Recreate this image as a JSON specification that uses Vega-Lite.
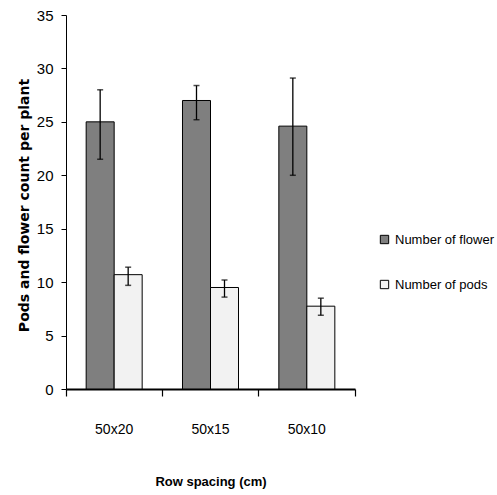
{
  "$schema": "https://vega.github.io/schema/vega-lite/v6.json",
  "autosize": {"type": "none"},
  "padding": {"left": 66, "top": 15, "right": 142, "bottom": 106},
  "width": 289,
  "height": 374,
  "background": "white",
  "config": {
    "view": {"stroke": null},
    "font": "Liberation Sans, sans-serif"
  },
  "data": {
    "values": [
      {"spacing": "50x20", "series": "Number of flower", "value": 25.0, "lower": 21.5, "upper": 28.0},
      {"spacing": "50x20", "series": "Number of pods", "value": 10.7, "lower": 9.7, "upper": 11.4},
      {"spacing": "50x15", "series": "Number of flower", "value": 27.0, "lower": 25.2, "upper": 28.4},
      {"spacing": "50x15", "series": "Number of pods", "value": 9.5, "lower": 8.6, "upper": 10.2},
      {"spacing": "50x10", "series": "Number of flower", "value": 24.6, "lower": 20.0, "upper": 29.1},
      {"spacing": "50x10", "series": "Number of pods", "value": 7.75, "lower": 6.9, "upper": 8.5}
    ]
  },
  "encoding": {
    "x": {
      "field": "spacing",
      "type": "nominal",
      "sort": ["50x20", "50x15", "50x10"],
      "scale": {"paddingInner": 0, "paddingOuter": 0},
      "axis": {
        "title": "Row spacing (cm)",
        "labelAngle": 0,
        "ticks": true,
        "bandPosition": 1,
        "tickExtra": true,
        "domainColor": "black",
        "domainWidth": 2,
        "tickColor": "black",
        "tickOpacity": 1,
        "tickSize": 7,
        "tickWidth": 1.2,
        "labelFontSize": 14,
        "labelColor": "black",
        "labelPadding": 26,
        "titleFontSize": 13,
        "titleFontWeight": "bold",
        "titleColor": "black",
        "titleBaseline": "middle",
        "titleY": 92
      }
    },
    "xOffset": {"field": "series", "type": "nominal", "scale": {"paddingInner": 0, "paddingOuter": 0.72}}
  },
  "layer": [
    {
      "mark": {"type": "bar", "stroke": "black", "strokeWidth": 1},
      "encoding": {
        "y": {
          "field": "value",
          "type": "quantitative",
          "scale": {"domain": [0, 35], "nice": false},
          "axis": {
            "title": "Pods and flower count per plant",
            "values": [0, 5, 10, 15, 20, 25, 30, 35],
            "grid": false,
            "domainColor": "black",
            "domainWidth": 1,
            "tickColor": "black",
            "tickSize": 5,
            "labelFontSize": 15,
            "labelColor": "black",
            "labelPadding": 8,
            "titleFont": "DejaVu Sans",
            "titleFontSize": 14,
            "titleFontWeight": "bold",
            "titleColor": "black",
            "titleAngle": -90,
            "titleBaseline": "middle",
            "titleAlign": "center",
            "titleX": -42,
            "titleY": 190
          }
        },
        "color": {
          "field": "series",
          "type": "nominal",
          "scale": {"range": ["#7f7f7f", "#f2f2f2"]},
          "legend": {
            "title": null,
            "orient": "none",
            "legendX": 312,
            "legendY": 218,
            "symbolType": "square",
            "symbolSize": 70,
            "symbolStrokeColor": "black",
            "symbolStrokeWidth": 1,
            "labelFontSize": 13,
            "labelColor": "black",
            "labelOffset": 4,
            "labelLimit": 200,
            "rowPadding": 31,
            "padding": 0
          }
        }
      }
    },
    {
      "mark": {"type": "rule", "color": "black", "strokeWidth": 1.3},
      "encoding": {
        "y": {"field": "lower", "type": "quantitative"},
        "y2": {"field": "upper"}
      }
    },
    {
      "mark": {"type": "tick", "color": "black", "thickness": 1.5, "size": 6},
      "encoding": {"y": {"field": "lower", "type": "quantitative"}}
    },
    {
      "mark": {"type": "tick", "color": "black", "thickness": 1.5, "size": 6},
      "encoding": {"y": {"field": "upper", "type": "quantitative"}}
    }
  ]
}
